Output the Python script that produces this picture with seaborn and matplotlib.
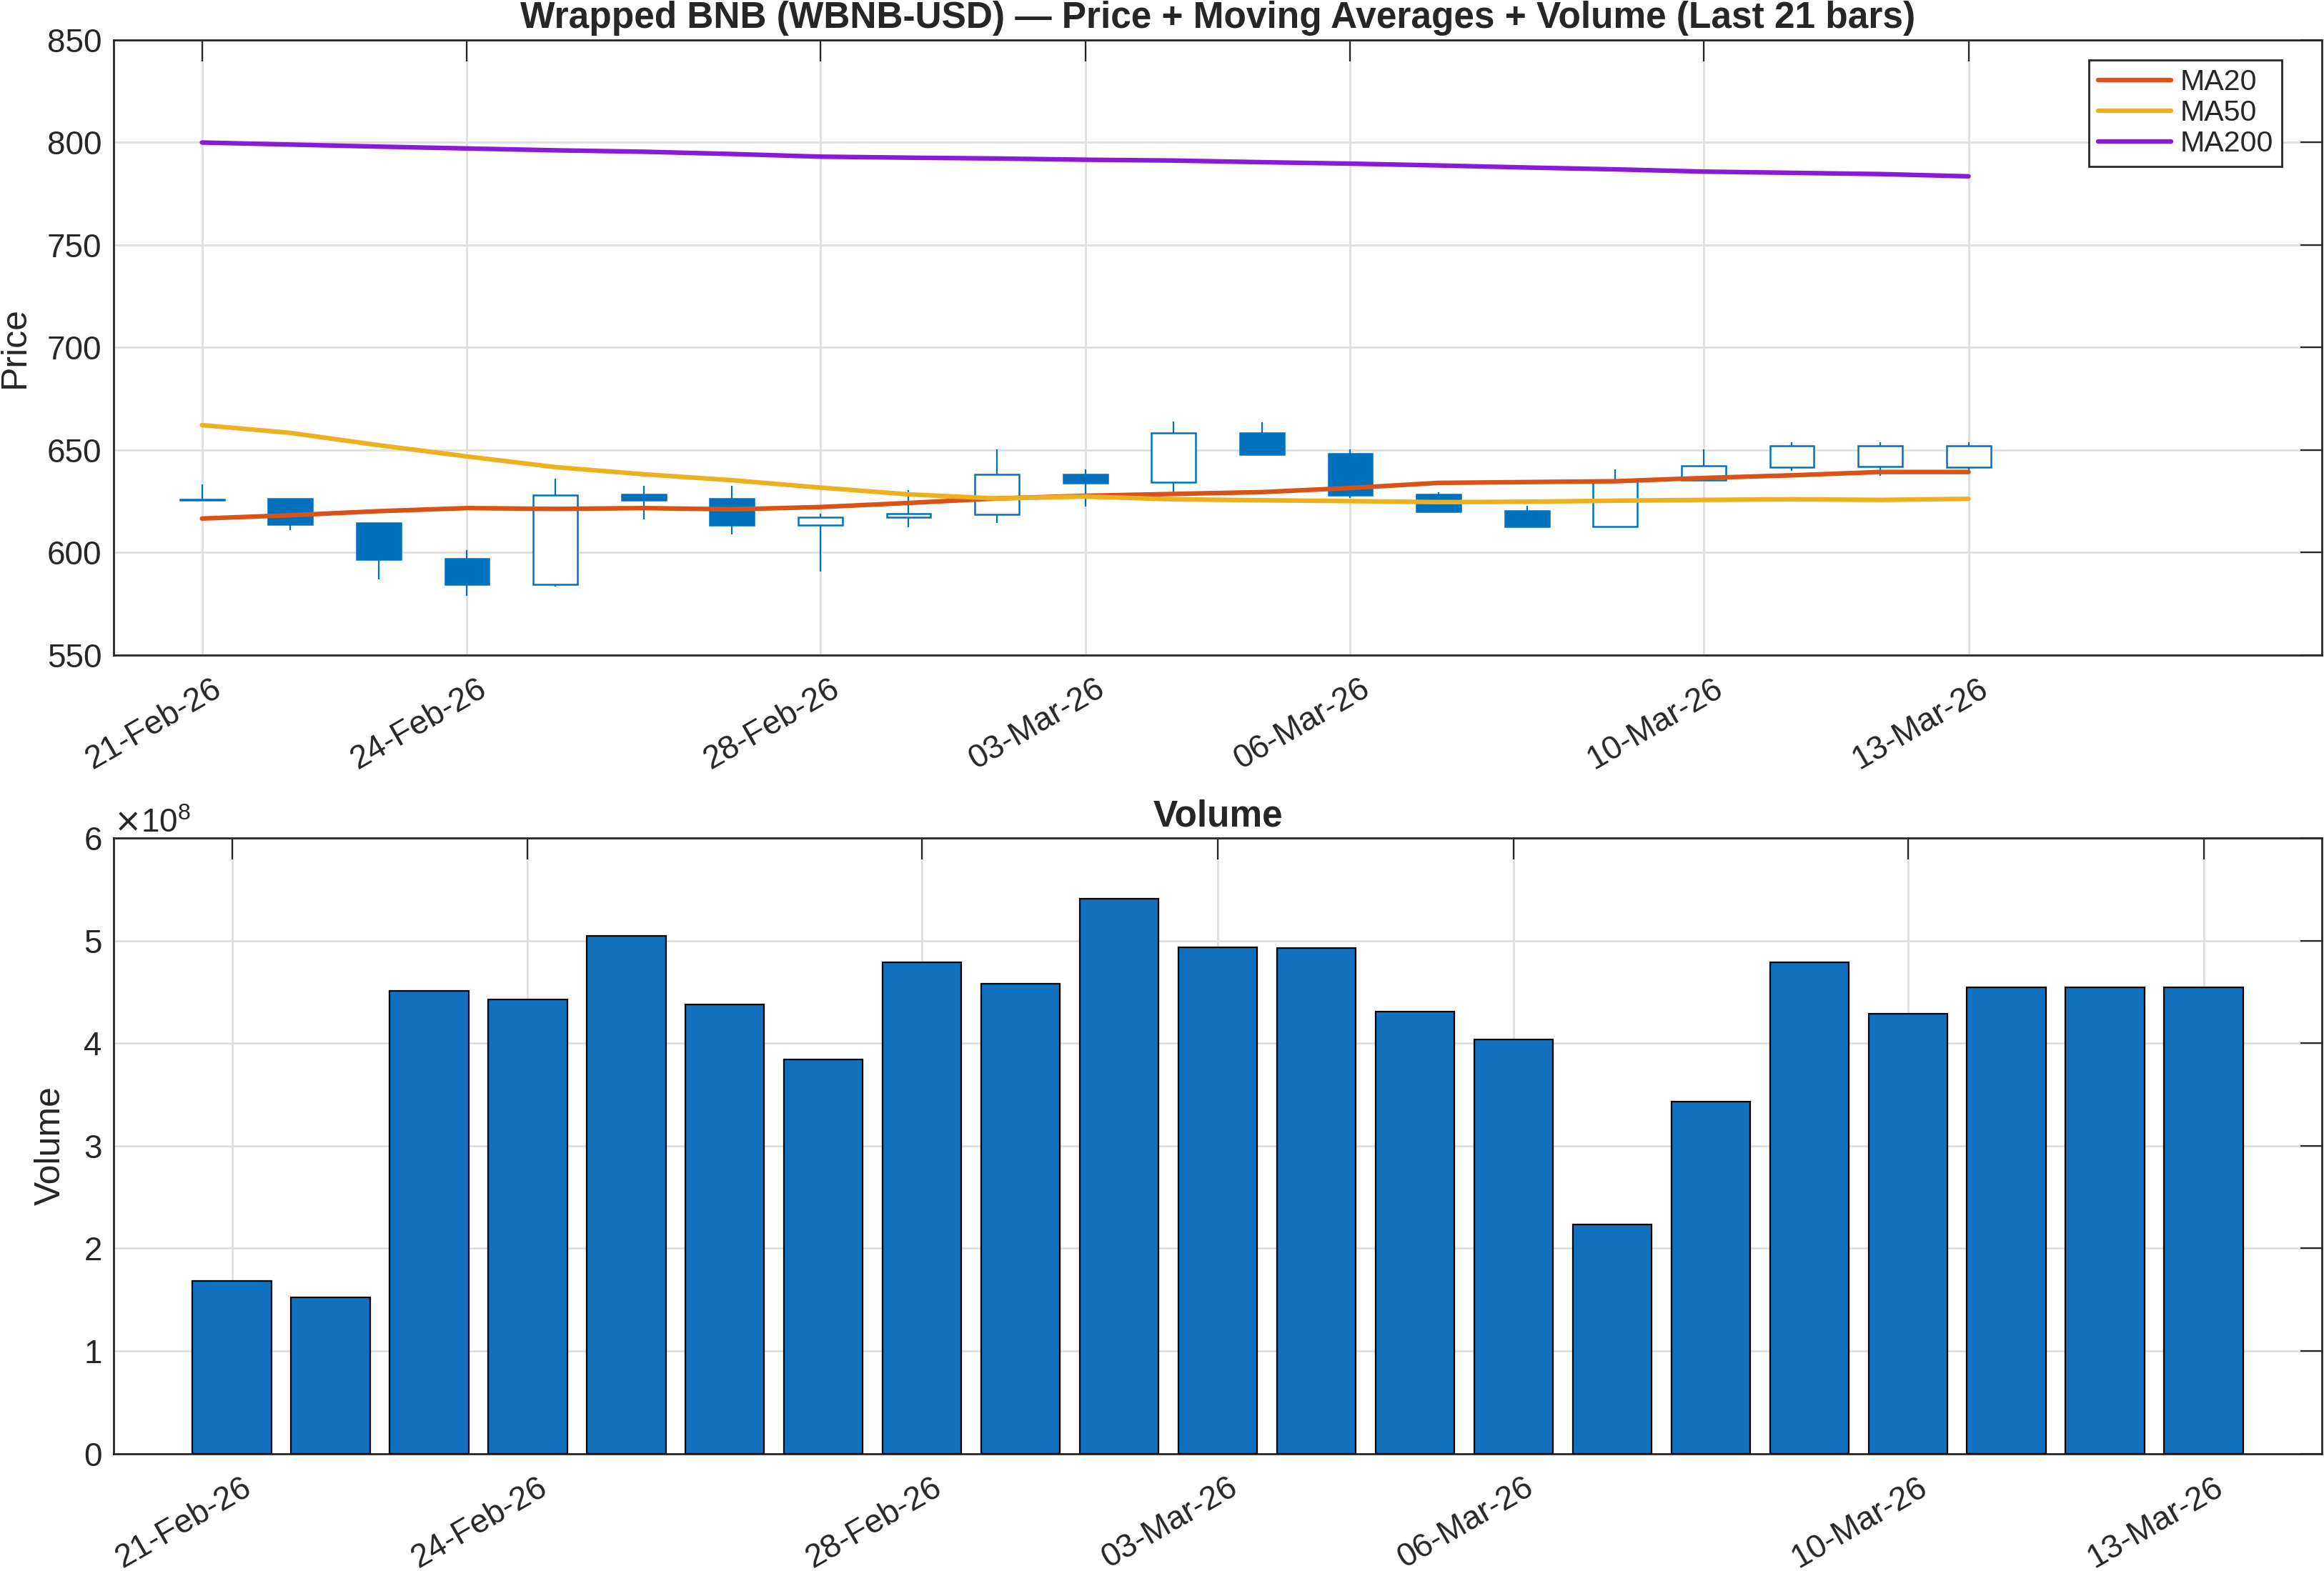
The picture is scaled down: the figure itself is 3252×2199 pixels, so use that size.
import numpy as np
import pandas as pd
import seaborn as sns
import matplotlib
matplotlib.use("Agg")
import matplotlib.pyplot as plt
import matplotlib.dates as mdates
import matplotlib.transforms as mtransforms
from matplotlib.ticker import ScalarFormatter, MultipleLocator

# --- data ---
dates = pd.date_range("2026-02-21", "2026-03-13", freq="D")
open_ = [626.0, 626.1, 614.3, 597.0, 584.5, 628.3, 626.1, 613.4, 617.0, 618.5, 638.1,
         634.1, 658.1, 648.3, 628.3, 620.3, 612.7, 635.2, 641.6, 641.8, 641.6]
high = [633.2, 626.3, 614.5, 601.2, 635.9, 632.5, 632.5, 618.7, 630.5, 650.1, 640.5,
        663.9, 663.4, 650.1, 629.4, 622.7, 640.5, 650.1, 653.9, 653.9, 653.9]
low = [625.4, 610.9, 586.7, 578.9, 583.2, 616.1, 608.7, 590.5, 612.3, 614.5, 622.3,
       629.4, 647.9, 626.5, 619.8, 612.1, 612.7, 635.2, 639.9, 637.2, 638.3]
close = [625.6, 613.8, 596.5, 584.3, 628.1, 625.6, 613.2, 617.2, 618.7, 637.9, 633.9,
         658.1, 647.9, 627.9, 619.8, 612.7, 635.0, 642.1, 652.1, 652.0, 652.1]
ma20 = [616.5, 618.1, 620.1, 621.6, 621.2, 621.6, 621.0, 622.1, 624.1, 626.3, 627.6,
        628.5, 629.4, 631.4, 633.9, 634.3, 634.7, 636.3, 637.6, 639.2, 639.2]
ma50 = [662.1, 658.3, 652.3, 646.8, 641.6, 638.1, 635.2, 631.6, 628.3, 626.3, 627.2,
        625.9, 625.4, 625.0, 624.5, 624.7, 625.2, 625.6, 625.9, 625.6, 626.1]
ma200 = [800.0, 799.0, 798.0, 797.1, 796.2, 795.5, 794.4, 793.1, 792.6, 792.2, 791.6,
         791.2, 790.4, 789.7, 788.8, 787.8, 786.9, 785.8, 785.2, 784.6, 783.5]
volume = [1.683e8, 1.522e8, 4.507e8, 4.429e8, 5.049e8, 4.380e8, 3.839e8, 4.790e8,
          4.576e8, 5.405e8, 4.932e8, 4.927e8, 4.307e8, 4.039e8, 2.234e8, 3.434e8,
          4.790e8, 4.288e8, 4.546e8, 4.546e8, 4.546e8]
tick_days = ["2026-02-21", "2026-02-24", "2026-02-28", "2026-03-03",
             "2026-03-06", "2026-03-10", "2026-03-13"]

BLUE = "#0072BD"
BAR = "#1271BE"
INK = "#262626"
ma_colors = {"MA20": "#D95319", "MA50": "#EDB120", "MA200": "#8A1AD6"}

sns.set_style("white")
plt.rcParams["font.family"] = ["Liberation Sans", "DejaVu Sans"]
plt.rcParams.update({
    "font.size": 16.5,
    "text.color": INK,
    "axes.labelcolor": INK,
    "axes.edgecolor": INK,
    "xtick.color": INK,
    "ytick.color": INK,
    "axes.linewidth": 1.0,
})

fig = plt.figure(figsize=(16.26, 10.995), dpi=200)
ax1 = fig.add_axes([0.0489, 0.5832, 0.9502, 0.3913])
ax2 = fig.add_axes([0.0489, 0.0747, 0.9502, 0.3919])


def matlab_axes(ax):
    ax.grid(True, color="#dfdfdf", lw=1.0, zorder=0)
    ax.set_axisbelow(True)
    ax.tick_params(direction="in", length=10.8, width=0.8, top=True, right=True,
                   labelsize=16.5, pad=6)
    ax.tick_params(axis="x", pad=9)
    for sp in ax.spines.values():
        sp.set_visible(True)
        sp.set_color(INK)
        sp.set_linewidth(1.0)
    shift = mtransforms.ScaledTranslation(13 / 200, 0, fig.dpi_scale_trans)
    for lab in ax.get_xticklabels():
        lab.set_rotation(30)
        lab.set_ha("right")
        lab.set_rotation_mode("anchor")
        lab.set_transform(lab.get_transform() + shift)


# --- price panel ---
o = np.array(open_)
c = np.array(close)
up = c >= o
ax1.vlines(dates, low, high, color=BLUE, lw=0.8, zorder=2)
ax1.bar(dates[up], (c - o)[up], bottom=o[up], width=0.5, facecolor="white",
        edgecolor=BLUE, lw=0.9, zorder=3)
ax1.bar(dates[~up], (c - o)[~up], bottom=o[~up], width=0.5, facecolor=BLUE,
        edgecolor=BLUE, lw=0.9, zorder=3)

ma_df = pd.DataFrame({"Date": dates, "MA20": ma20, "MA50": ma50, "MA200": ma200})
ma_long = ma_df.melt(id_vars="Date", var_name="MA", value_name="Value")
sns.lineplot(data=ma_long, x="Date", y="Value", hue="MA", palette=ma_colors,
             lw=2.3, ax=ax1, zorder=4)

ax1.set_xlim(pd.Timestamp("2026-02-20"), pd.Timestamp("2026-03-17"))
ax1.set_ylim(550, 850)
ax1.yaxis.set_major_locator(MultipleLocator(50))
ax1.set_xticks(pd.to_datetime(tick_days))
ax1.xaxis.set_major_formatter(mdates.DateFormatter("%d-%b-%y"))
ax1.set_xlabel("")
ax1.set_ylabel("Price", fontsize=18, labelpad=8)
ax1.set_title("Wrapped BNB (WBNB-USD) \u2014 Price + Moving Averages + Volume (Last 21 bars)",
              fontsize=18.5, fontweight="bold", pad=6)
leg = ax1.legend(loc="upper right", bbox_to_anchor=(0.982, 0.9675), fontsize=14.8,
                 frameon=True, fancybox=False, edgecolor=INK, framealpha=1,
                 borderpad=0.3, handlelength=2.5, handletextpad=0.3,
                 labelspacing=0.12, borderaxespad=0)
leg.get_frame().set_linewidth(1.0)
matlab_axes(ax1)

# --- volume panel ---
idx = np.arange(len(volume))
sns.barplot(x=idx, y=volume, color=BAR, saturation=1, edgecolor="black", lw=0.8,
            width=0.8, ax=ax2, zorder=3)
ax2.set_xlim(-1.2, 21.2)
ax2.set_ylim(0, 6e8)
ax2.yaxis.set_major_locator(MultipleLocator(1e8))
fmt = ScalarFormatter(useMathText=True)
fmt.set_powerlimits((0, 0))
ax2.yaxis.set_major_formatter(fmt)
ax2.yaxis.get_offset_text().set_fontsize(16.5)
tick_pos = [list(dates).index(pd.Timestamp(d)) for d in tick_days]
ax2.set_xticks(tick_pos)
ax2.set_xticklabels([pd.Timestamp(d).strftime("%d-%b-%y") for d in tick_days])
ax2.set_ylabel("Volume", fontsize=18, labelpad=8)
ax2.set_title("Volume", fontsize=18.5, fontweight="bold", pad=6)
matlab_axes(ax2)

fig.savefig("out.png", dpi=200, facecolor="white")
